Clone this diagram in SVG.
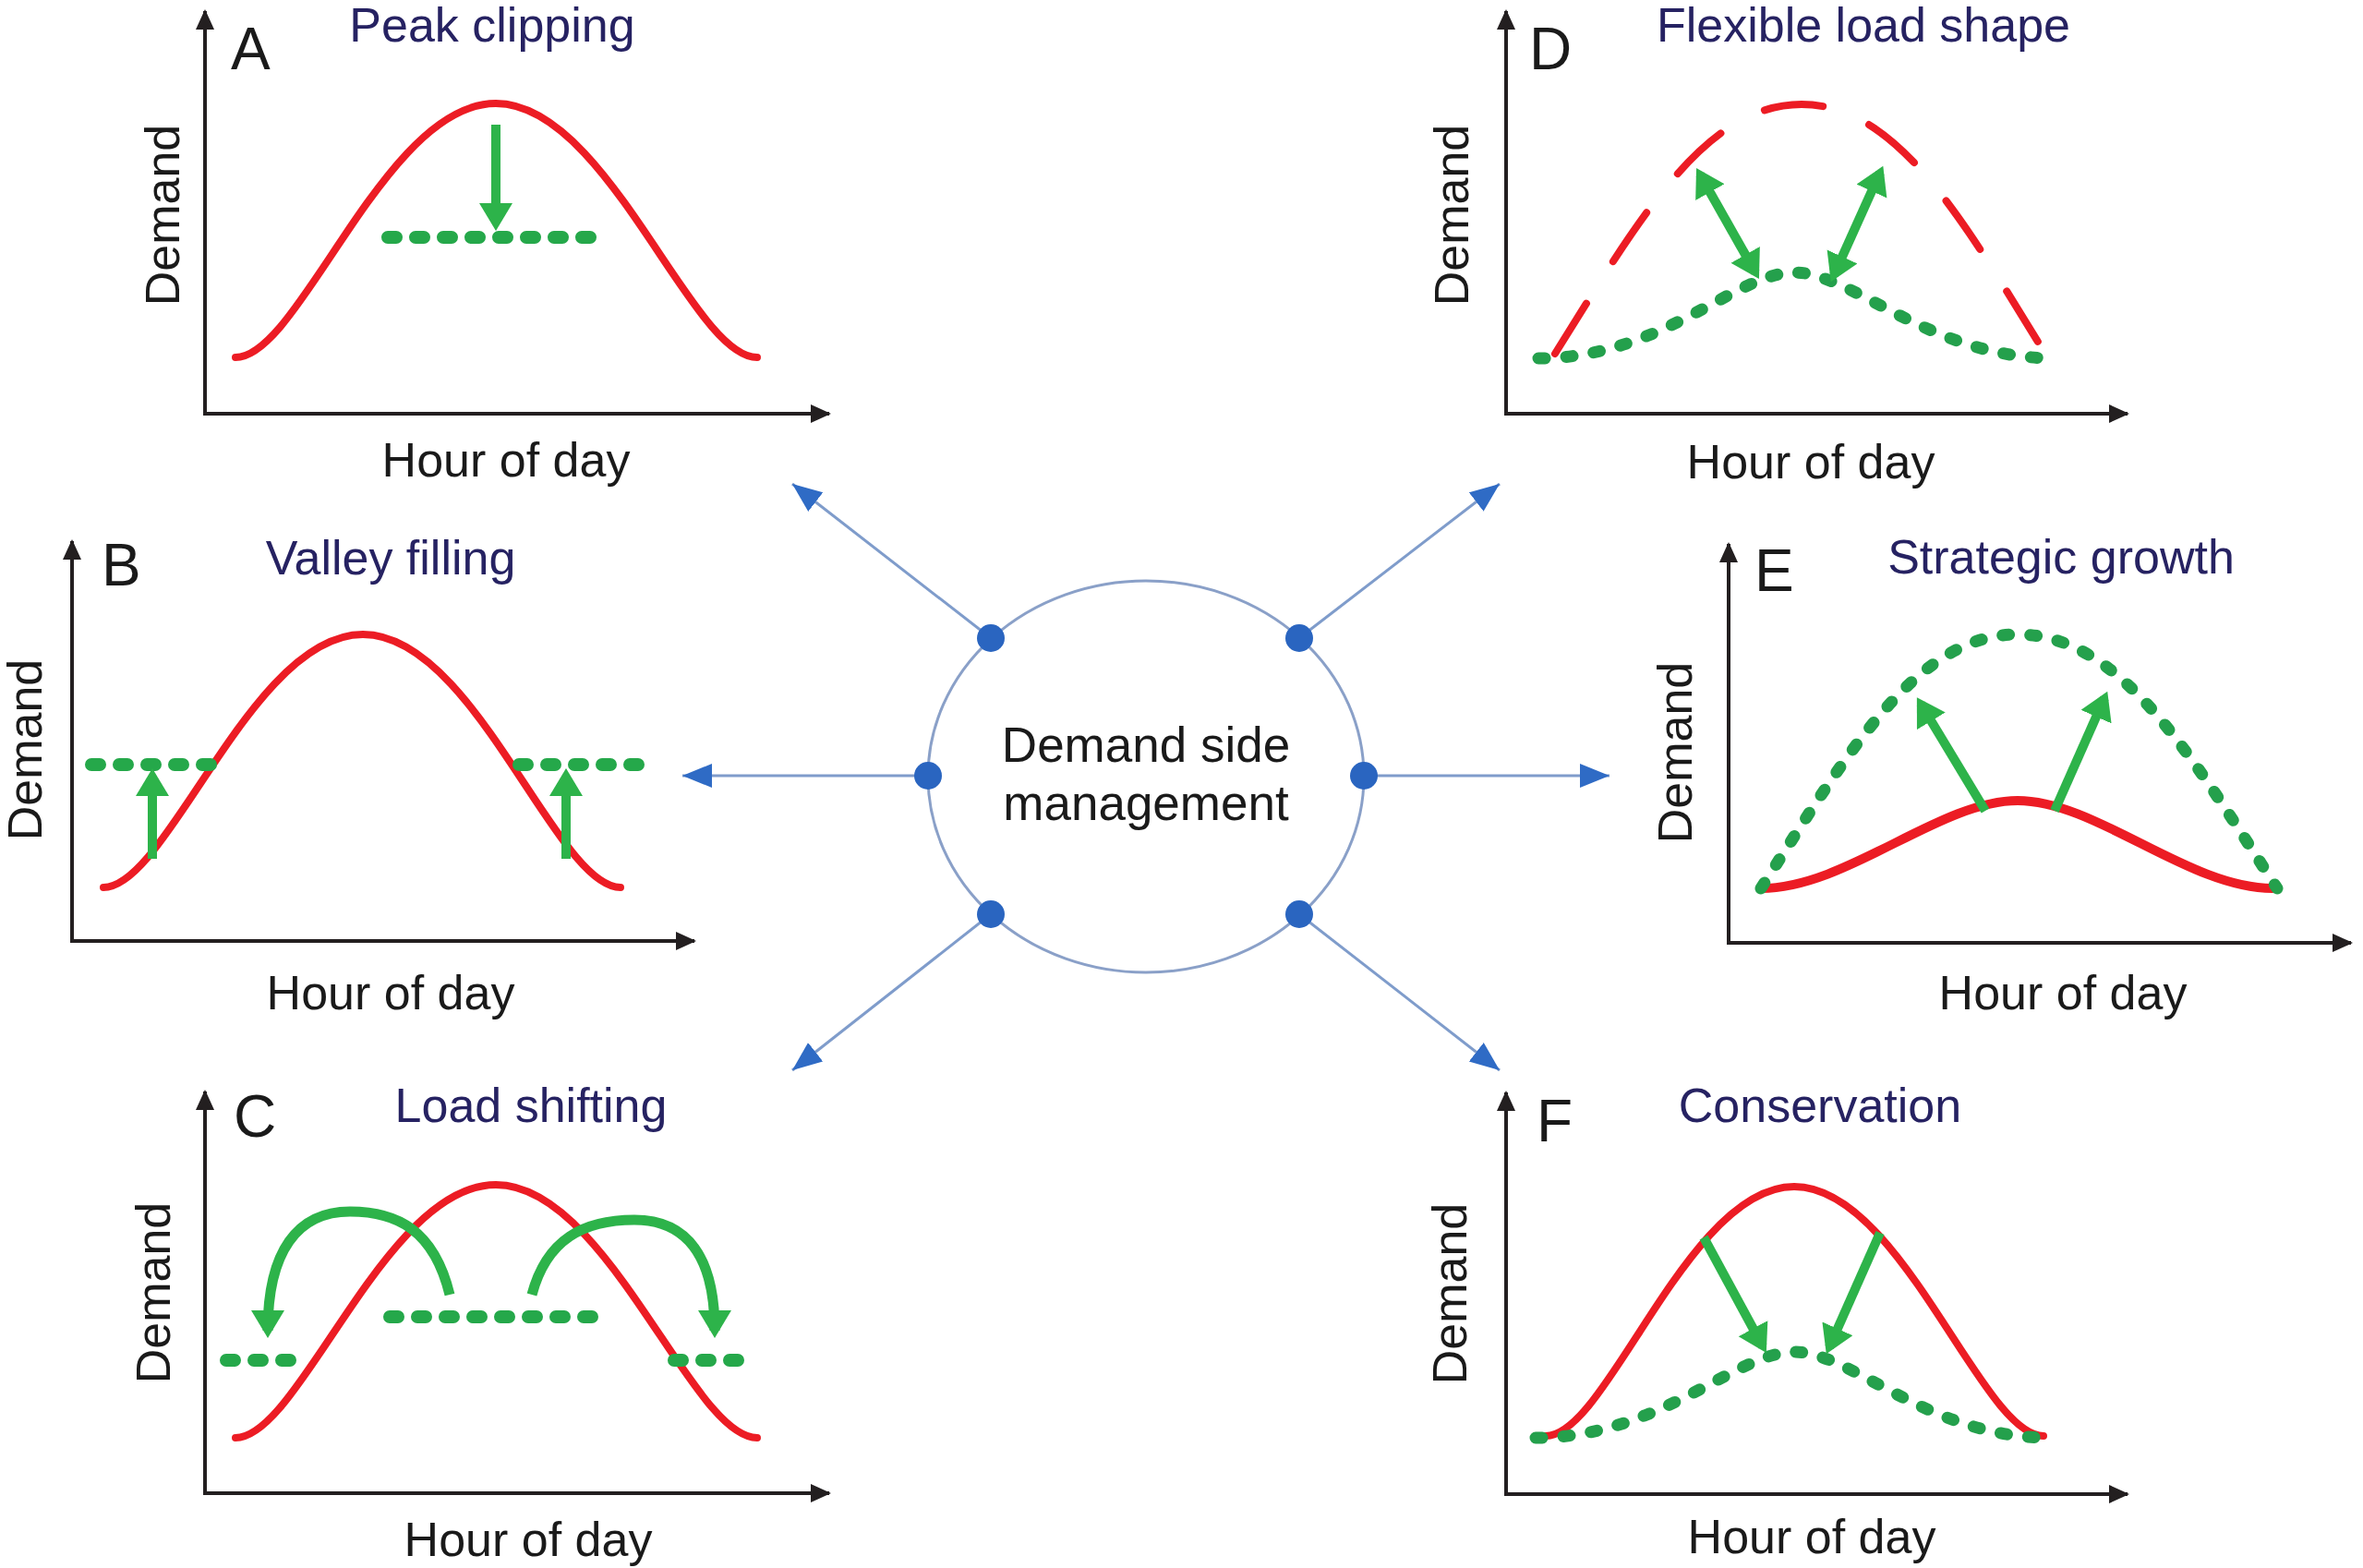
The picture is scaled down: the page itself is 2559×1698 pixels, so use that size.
<svg xmlns="http://www.w3.org/2000/svg" width="2559" height="1698" viewBox="0 0 2559 1698">
<defs>
<marker id="axh" markerUnits="userSpaceOnUse" markerWidth="24" markerHeight="22" refX="20" refY="10" orient="auto-start-reverse"><path d="M0,0 L22,10 L0,20 z" fill="#231f20"/></marker>
<marker id="gh" markerUnits="userSpaceOnUse" markerWidth="32" markerHeight="38" refX="22" refY="18" orient="auto-start-reverse"><path d="M0,0 L30,18 L0,36 z" fill="#2db34a"/></marker>
<marker id="bh" markerUnits="userSpaceOnUse" markerWidth="34" markerHeight="28" refX="32" refY="13" orient="auto"><path d="M0,0 L32,13 L0,26 z" fill="#2f6bc5"/></marker>
</defs>
<style>
.ax{fill:none;stroke:#231f20;stroke-width:4;marker-start:url(#axh);marker-end:url(#axh)}
.red{fill:none;stroke:#ec1c24;stroke-width:8;stroke-linecap:round}
.reddash{fill:none;stroke:#ec1c24;stroke-width:8;stroke-linecap:round;stroke-dasharray:64 54}
.dots{fill:none;stroke:#25a84a;stroke-width:14;stroke-linecap:round;stroke-dasharray:9 21}
.cdots{fill:none;stroke:#24a04c;stroke-width:13;stroke-linecap:round;stroke-dasharray:7 23}
.garr{fill:none;stroke:#2db34a;stroke-width:10;marker-end:url(#gh)}
.gdbl{fill:none;stroke:#2db34a;stroke-width:10;marker-start:url(#gh);marker-end:url(#gh)}
.garc{fill:none;stroke:#2db34a;stroke-width:11;marker-end:url(#gh)}
text{font-family:"Liberation Sans",Arial,sans-serif}
.lbl{font-size:64px;fill:#1a1a1a}
.ttl{font-size:52px;fill:#262262;text-anchor:middle}
.axl{font-size:52px;fill:#1a1a1a;text-anchor:middle}
.ctr{font-size:53px;fill:#1a1a1a;text-anchor:middle}
.conn{fill:none;stroke:#7f9ccb;stroke-width:3;marker-end:url(#bh)}
.dot{fill:#2a65c0}
</style>
<rect width="2559" height="1698" fill="#ffffff"/>

<g id="panel-A">
<path class="ax" d="M222,12 L222,448 L898,448"/>
<text class="lbl" x="250" y="75">A</text>
<text class="ttl" x="533" y="45">Peak clipping</text>
<path class="red" d="M255,387 C325,387 416,112 537,112 C658,112 749,387 820,387"/>
<path class="dots" d="M420,257 L648,257"/>
<path class="garr" d="M537,135 L537,242"/>
<text class="axl" transform="translate(194,233) rotate(-90)">Demand</text>
<text class="axl" x="548" y="516">Hour of day</text>
</g>

<g id="panel-B">
<path class="ax" d="M78,586 L78,1019 L752,1019"/>
<text class="lbl" x="110" y="634">B</text>
<text class="ttl" x="423" y="622">Valley filling</text>
<path class="red" d="M112,961 C182,961 272,687 393,687 C514,687 602,961 672,961"/>
<path class="dots" d="M99,828 L235,828"/>
<path class="dots" d="M562,828 L696,828"/>
<path class="garr" d="M165,930 L165,840"/>
<path class="garr" d="M613,930 L613,840"/>
<text class="axl" transform="translate(45,812) rotate(-90)">Demand</text>
<text class="axl" x="423" y="1093">Hour of day</text>
</g>

<g id="panel-C">
<path class="ax" d="M222,1182 L222,1617 L898,1617"/>
<text class="lbl" x="253" y="1231">C</text>
<text class="ttl" x="575" y="1215">Load shifting</text>
<path class="red" d="M255,1557 C325,1557 416,1283 537,1283 C658,1283 749,1557 820,1557"/>
<path class="dots" d="M422,1426 L645,1426"/>
<path class="dots" d="M245,1473 L324,1473"/>
<path class="dots" d="M730,1473 L808,1473"/>
<path class="garc" d="M487,1402 C470,1332 430,1312 379,1312 C322,1312 290,1355 290,1441"/>
<path class="garc" d="M576,1402 C592,1342 632,1321 687,1321 C745,1321 774,1362 774,1441"/>
<text class="axl" transform="translate(184,1400) rotate(-90)">Demand</text>
<text class="axl" x="572" y="1685">Hour of day</text>
</g>

<g id="panel-D">
<path class="ax" d="M1631,12 L1631,448 L2304,448"/>
<text class="lbl" x="1656" y="75">D</text>
<text class="ttl" x="2018" y="45">Flexible load shape</text>
<path class="reddash" d="M1684,383 C1772,243 1844,113 1951,113 C2057,113 2128,243 2215,383"/>
<path class="cdots" d="M1666,388 C1800,388 1880,295 1943,295 C2006,295 2090,388 2225,388"/>
<path class="gdbl" d="M1841,189 L1901,295"/>
<path class="gdbl" d="M2036,187 L1986,298"/>
<text class="axl" transform="translate(1590,233) rotate(-90)">Demand</text>
<text class="axl" x="1961" y="518">Hour of day</text>
</g>

<g id="panel-E">
<path class="ax" d="M1872,589 L1872,1021 L2546,1021"/>
<text class="lbl" x="1900" y="640">E</text>
<text class="ttl" x="2232" y="621">Strategic growth</text>
<path class="red" style="stroke-width:10" d="M1907,962 C2000,962 2100,867 2185,867 C2270,867 2370,962 2461,962"/>
<path class="cdots" d="M1907,962 C1999,819 2074,687 2185,687 C2297,687 2373,819 2466,962"/>
<path class="garr" d="M2150,878 L2080,762"/>
<path class="garr" d="M2225,878 L2279,756"/>
<text class="axl" transform="translate(1832,815) rotate(-90)">Demand</text>
<text class="axl" x="2234" y="1093">Hour of day</text>
</g>

<g id="panel-F">
<path class="ax" d="M1631,1183 L1631,1618 L2304,1618"/>
<text class="lbl" x="1664" y="1236">F</text>
<text class="ttl" x="1971" y="1215">Conservation</text>
<path class="red" d="M1674,1555 C1741,1555 1827,1285 1943,1285 C2059,1285 2146,1555 2213,1555"/>
<path class="cdots" d="M1663,1557 C1797,1557 1880,1464 1943,1464 C2006,1464 2087,1557 2220,1557"/>
<path class="garr" d="M1845,1340 L1909,1458"/>
<path class="garr" d="M2036,1335 L1981,1459"/>
<text class="axl" transform="translate(1588,1401) rotate(-90)">Demand</text>
<text class="axl" x="1962" y="1682">Hour of day</text>
</g>

<g id="connectors">
<path class="conn" d="M1073,691 L858,524"/>
<path class="conn" d="M1407,691 L1624,524"/>
<path class="conn" d="M1005,840 L739,840"/>
<path class="conn" d="M1477,840 L1743,840"/>
<path class="conn" d="M1073,990 L858,1159"/>
<path class="conn" d="M1407,990 L1624,1159"/>
</g>

<g id="dsm">
<ellipse cx="1241" cy="841" rx="236" ry="212" fill="none" stroke="#8aa0c8" stroke-width="3"/>
<circle class="dot" cx="1073" cy="691" r="15"/>
<circle class="dot" cx="1407" cy="691" r="15"/>
<circle class="dot" cx="1005" cy="840" r="15"/>
<circle class="dot" cx="1477" cy="840" r="15"/>
<circle class="dot" cx="1073" cy="990" r="15"/>
<circle class="dot" cx="1407" cy="990" r="15"/>
<text class="ctr" x="1241" y="825">Demand side</text>
<text class="ctr" x="1241" y="888">management</text>
</g>
</svg>
